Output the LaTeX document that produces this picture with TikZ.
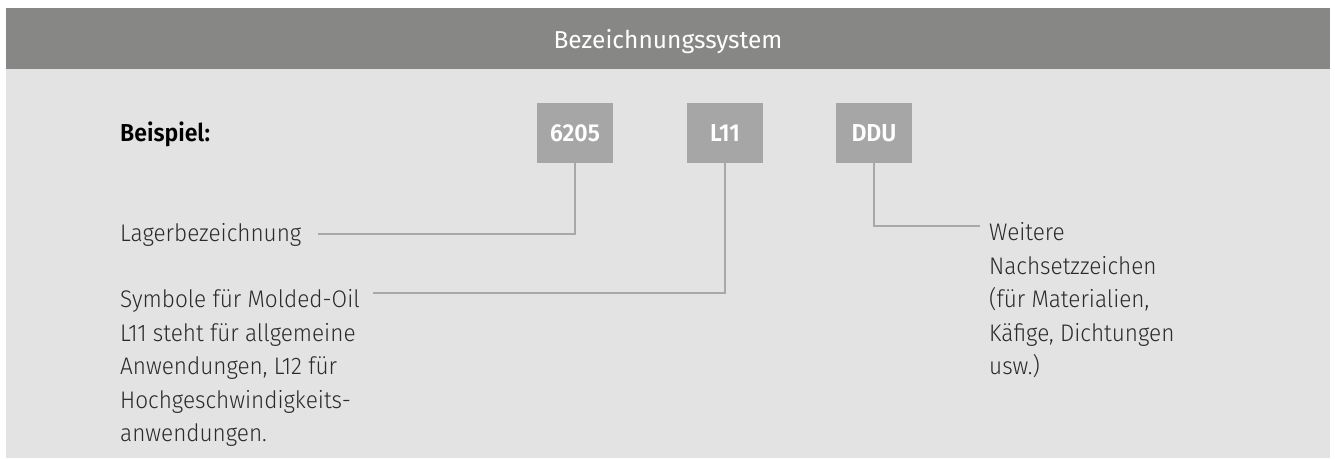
\documentclass[tikz,border=0pt]{standalone}
\usepackage{fontspec}
\setmainfont{Fira Sans Light}[BoldFont={Fira Sans SemiBold},FakeStretch=0.94]
\newfontfamily\titlefont{Fira Sans}
\usepackage{tikz}

\definecolor{bandgray}{HTML}{878785}
\definecolor{panelgray}{HTML}{E3E3E3}
\definecolor{boxgray}{HTML}{A6A6A6}
\definecolor{linegray}{HTML}{A8A8A8}
\definecolor{textgray}{HTML}{2A2A2A}

\begin{document}
\begin{tikzpicture}[x=1pt,y=-1pt,
  codebox/.style={fill=boxgray,minimum width=76pt,minimum height=60pt,inner sep=0pt,text=white,font=\fontsize{24.5}{28}\selectfont\bfseries},
  lbl/.style={anchor=base west,inner sep=0pt,align=left,text=textgray,font=\fontsize{24}{33.5}\selectfont},
  lead/.style={draw=linegray,line width=2pt}]
\useasboundingbox (0,0) rectangle (1335,458);
\fill[panelgray] (6,69) rectangle (1330,458);
\fill[bandgray] (6,8) rectangle (1330,69);
\node[anchor=base,inner sep=0pt,text=white,font=\titlefont\fontsize{24.5}{28}\selectfont] (title) at (668,48) {Bezeichnungssystem};
\node[anchor=base west,inner sep=0pt,text=black,font=\fontsize{24.5}{28}\selectfont\bfseries] (beispiel) at (120,141) {Beispiel:};
\node[codebox] (b6205) at (575,133) {6205};
\node[codebox] (bL11) at (725,133) {L11};
\node[codebox] (bDDU) at (874,133) {DDU};
% base anchor of a multi-line label sits on its last line
\node[lbl] (lager) at (120,241) {Lagerbezeichnung};
\node[lbl] (symbole) at (120,441.5) {Symbole für Molded-Oil\\L11 steht für allgemeine\\Anwendungen, L12 für\\Hochgeschwindigkeits-\\anwendungen.};
\node[lbl] (weitere) at (989,374.5) {Weitere\\Nachsetzzeichen\\(für Materialien,\\Käfige, Dichtungen\\usw.)};
\coordinate (lagerend) at (318,234);
\coordinate (symend) at (373,293);
\coordinate (weitend) at (980,226);
\draw[lead] (b6205.south) |- (lagerend);
\draw[lead] (bL11.south) |- (symend);
\draw[lead] (bDDU.south) |- (weitend);
\end{tikzpicture}
\end{document}
